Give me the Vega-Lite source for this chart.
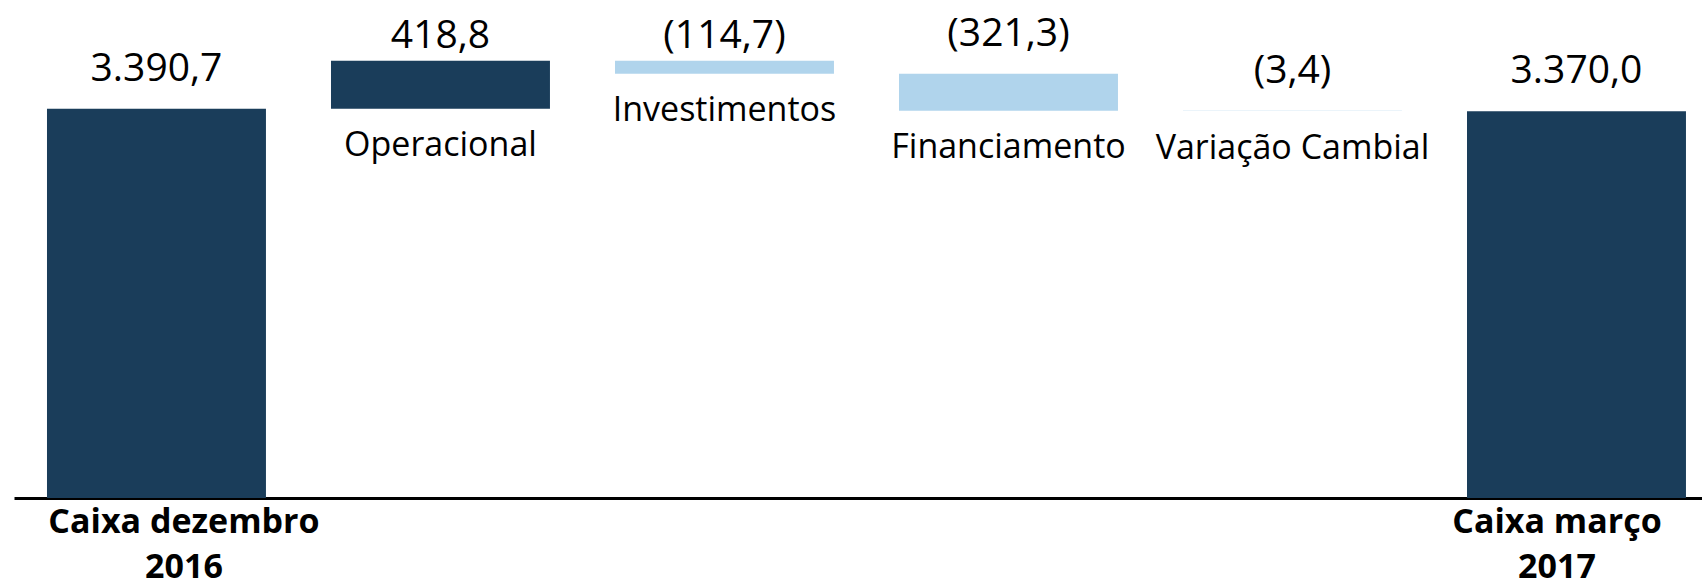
{
  "$schema": "https://vega.github.io/schema/vega-lite/v6.json",
  "autosize": "none",
  "width": 1688,
  "height": 498,
  "padding": {"left": 14, "top": 0, "right": 0, "bottom": 89},
  "background": "white",
  "config": {"view": {"stroke": null}, "font": "Open Sans"},
  "data": {
    "values": [
      {"etapa": "Caixa dezembro 2016", "nome": "Caixa dezembro\n2016", "tipo": "total", "sinal": "positivo", "low": 0, "high": 3390.7, "rotulo": "3.390,7"},
      {"etapa": "Operacional", "nome": "Operacional", "tipo": "fluxo", "sinal": "positivo", "low": 3390.7, "high": 3809.5, "rotulo": "418,8"},
      {"etapa": "Investimentos", "nome": "Investimentos", "tipo": "fluxo", "sinal": "negativo", "low": 3694.8, "high": 3809.5, "rotulo": "(114,7)"},
      {"etapa": "Financiamento", "nome": "Financiamento", "tipo": "fluxo", "sinal": "negativo", "low": 3373.5, "high": 3694.8, "rotulo": "(321,3)"},
      {"etapa": "Variação Cambial", "nome": "Variação Cambial", "tipo": "fluxo", "sinal": "negativo", "low": 3370.1, "high": 3373.5, "rotulo": "(3,4)"},
      {"etapa": "Caixa março 2017", "nome": "Caixa março\n2017", "tipo": "total", "sinal": "positivo", "low": 0, "high": 3370.0, "rotulo": "3.370,0"}
    ]
  },
  "encoding": {
    "x": {
      "field": "etapa",
      "type": "nominal",
      "sort": null,
      "scale": {"paddingInner": 0.229, "paddingOuter": 0.0863, "align": 0.673},
      "axis": {"title": null, "labels": false, "ticks": false, "domainColor": "#000000", "domainWidth": 3, "grid": false}
    },
    "y": {
      "field": "high",
      "type": "quantitative",
      "scale": {"domain": [0, 4338], "nice": false, "zero": true},
      "axis": null
    }
  },
  "layer": [
    {
      "mark": {"type": "bar"},
      "encoding": {
        "y2": {"field": "low"},
        "color": {
          "field": "sinal",
          "type": "nominal",
          "scale": {"domain": ["positivo", "negativo"], "range": ["#1a3d5a", "#b0d4ec"]},
          "legend": null
        }
      }
    },
    {
      "transform": [{"filter": "datum.etapa != 'Operacional' && datum.etapa != 'Investimentos'"}],
      "mark": {"type": "text", "baseline": "alphabetic", "dy": -28, "fontSize": 39, "color": "#000000"},
      "encoding": {"text": {"field": "rotulo", "type": "nominal"}}
    },
    {
      "transform": [{"filter": "datum.etapa == 'Operacional' || datum.etapa == 'Investimentos'"}],
      "mark": {"type": "text", "baseline": "alphabetic", "dy": -13, "fontSize": 39, "color": "#000000"},
      "encoding": {"text": {"field": "rotulo", "type": "nominal"}}
    },
    {
      "transform": [{"filter": "datum.tipo == 'fluxo'"}],
      "mark": {"type": "text", "baseline": "alphabetic", "dy": 47.5, "fontSize": 34, "color": "#000000"},
      "encoding": {
        "y": {"field": "low", "type": "quantitative"},
        "text": {"field": "nome", "type": "nominal"}
      }
    },
    {
      "transform": [{"filter": "datum.etapa == 'Caixa dezembro 2016'"}],
      "mark": {"type": "text", "baseline": "alphabetic", "dy": 35, "dx": 27.5, "fontSize": 34, "fontWeight": "bold", "lineBreak": "\n", "lineHeight": 45, "color": "#000000"},
      "encoding": {
        "y": {"field": "low", "type": "quantitative"},
        "text": {"field": "nome", "type": "nominal"}
      }
    },
    {
      "transform": [{"filter": "datum.etapa == 'Caixa março 2017'"}],
      "mark": {"type": "text", "baseline": "alphabetic", "dy": 35, "dx": -19.5, "fontSize": 34, "fontWeight": "bold", "lineBreak": "\n", "lineHeight": 45, "color": "#000000"},
      "encoding": {
        "y": {"field": "low", "type": "quantitative"},
        "text": {"field": "nome", "type": "nominal"}
      }
    }
  ]
}
